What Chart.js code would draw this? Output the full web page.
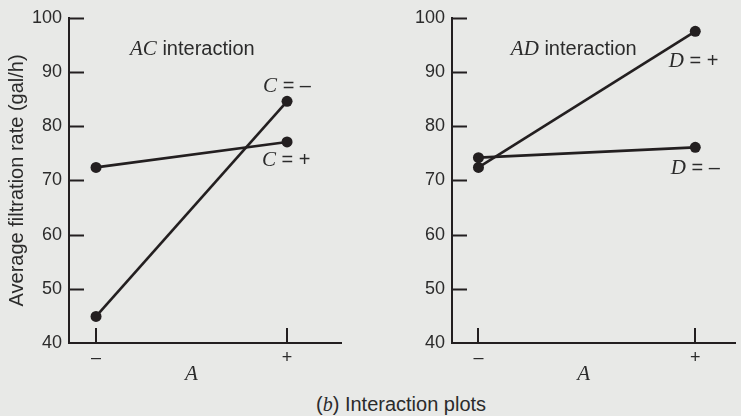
<!DOCTYPE html>
<html>
<head>
<meta charset="utf-8">
<script src="https://cdn.jsdelivr.net/npm/chart.js@4/dist/chart.umd.min.js"></script>
<style>
  html, body { margin: 0; padding: 0; background: #e8e9e7; }
  #wrap { position: relative; width: 741px; height: 416px; overflow: hidden; background: #e8e9e7; }
  #c-ac { position: absolute; left: 0; top: 0; }
  #c-ad { position: absolute; left: 370px; top: 0; }
  #caption { position: absolute; left: 316px; top: 393px; white-space: nowrap;
             font: 20px "Liberation Sans", Arial, sans-serif; color: #2b2b2b; }
  #caption i { font-family: "Liberation Serif", serif; }
</style>
</head>
<body>
<div id="wrap">
  <canvas id="c-ac" width="370" height="390"></canvas>
  <canvas id="c-ad" width="371" height="390"></canvas>
  <div id="caption">(<i>b</i>) Interaction plots</div>
</div>
<script>
// ── Datos ─────────────────────────────────────────────
var nivelesA   = [-1, 1];          // A = –, A = +
var etiquetasA = ['–', '+'];
var ticksY     = [40, 50, 60, 70, 80, 90, 100];

var acCMenos = [44.9, 84.6];       // C = –
var acCMas   = [72.4, 77.1];       // C = +
var adDMenos = [74.2, 76.1];       // D = –
var adDMas   = [72.4, 97.5];       // D = +

var INK   = '#231f20';
var TEXTO = '#2b2b2b';
var SANS  = '"Liberation Sans", Arial, sans-serif';
var SERIF = '"Liberation Serif", serif';

function _pts(arr) { return nivelesA.map(function(x, i) { return { x: x, y: arr[i] }; }); }

function _serie(arr) {
    return {
        data: _pts(arr),
        showLine: true,
        borderColor: INK,
        backgroundColor: INK,
        borderWidth: 2.6,
        pointRadius: 5.5,
        pointHoverRadius: 5.5,
        pointBorderWidth: 0
    };
}

// Marcas de eje hacia adentro + rótulos de texto
var pluginMarcas = {
    id: 'marcas',
    afterDraw: function(chart, args, opts) {
        var ctx = chart.ctx, xs = chart.scales.x, ys = chart.scales.y, ca = chart.chartArea;
        ctx.save();
        ctx.strokeStyle = INK;
        ctx.lineWidth = 2;
        ticksY.forEach(function(v) {
            if (v === 40) return;
            var py = Math.round(ys.getPixelForValue(v)) + 0.5;
            ctx.beginPath(); ctx.moveTo(ca.left, py); ctx.lineTo(ca.left + 15, py); ctx.stroke();
        });
        nivelesA.forEach(function(v) {
            var px = Math.round(xs.getPixelForValue(v));
            ctx.beginPath(); ctx.moveTo(px, ca.bottom); ctx.lineTo(px, ca.bottom - 15); ctx.stroke();
        });
        // título eje x (A)
        ctx.fillStyle = TEXTO;
        ctx.font = 'italic 21px ' + SERIF;
        ctx.textAlign = 'center';
        ctx.textBaseline = 'middle';
        ctx.fillText('A', xs.getPixelForValue(opts.tituloX), ca.bottom + 31);
        // rótulos
        ctx.textAlign = 'left';
        (opts.rotulos || []).forEach(function(r) {
            var x = xs.getPixelForValue(r.x), y = ys.getPixelForValue(r.y);
            r.partes.forEach(function(p) {
                ctx.font = p[1] === 'i' ? 'italic 21px ' + SERIF : '20px ' + SANS;
                ctx.fillText(p[0], x, y);
                x += ctx.measureText(p[0]).width;
            });
        });
        ctx.restore();
    }
};

function _crearPanel(id, series, xMin, xMax, anchoY, padDer, conTitulo, rotulos, tituloX) {
    return new Chart(document.getElementById(id), {
        type: 'scatter',
        data: { datasets: series.map(_serie) },
        plugins: [pluginMarcas],
        options: {
            responsive: false,
            animation: false,
            events: [],
            layout: { padding: { top: 15, right: padDer, left: 0, bottom: 0 } },
            plugins: {
                legend: { display: false },
                tooltip: { enabled: false },
                marcas: { rotulos: rotulos, tituloX: tituloX }
            },
            scales: {
                x: {
                    type: 'linear', min: xMin, max: xMax,
                    afterBuildTicks: function(s) { s.ticks = nivelesA.map(function(v) { return { value: v }; }); },
                    afterFit: function(s) { s.height = 47; },
                    grid: { display: false, drawTicks: false },
                    border: { display: true, color: INK, width: 2 },
                    ticks: {
                        padding: 4, color: TEXTO, font: { family: SANS, size: 18 },
                        autoSkip: false, maxRotation: 0,
                        callback: function(v) { var i = nivelesA.indexOf(v); return i >= 0 ? etiquetasA[i] : ''; }
                    }
                },
                y: {
                    min: 40, max: 100,
                    afterBuildTicks: function(s) { s.ticks = ticksY.map(function(v) { return { value: v }; }); },
                    afterFit: function(s) { s.width = anchoY; },
                    grid: { display: false, drawTicks: false },
                    border: { display: true, color: INK, width: 2 },
                    ticks: { padding: 7, color: TEXTO, font: { family: SANS, size: 18 } },
                    title: {
                        display: conTitulo, text: 'Average filtration rate (gal/h)',
                        color: TEXTO, font: { family: SANS, size: 20 }, padding: { top: 5, bottom: 0 }
                    }
                }
            }
        }
    });
}

_crearPanel('c-ac', [acCMenos, acCMas], -1.283, 1.565, 69, 29, true, [
    { x: -0.644, y: 94.1, partes: [['AC', 'i'], [' interaction', 's']] },
    { x: 0.749,  y: 87.3, partes: [['C', 'i'], [' = –', 's']] },
    { x: 0.738,  y: 73.6, partes: [['C', 'i'], [' = +', 's']] }
], 0);

_crearPanel('c-ad', [adDMenos, adDMas], -1.244, 1.371, 82, 0, false, [
    { x: -0.701, y: 94.1, partes: [['AD', 'i'], [' interaction', 's']] },
    { x: 0.756,  y: 91.9, partes: [['D', 'i'], [' = +', 's']] },
    { x: 0.774,  y: 72.2, partes: [['D', 'i'], [' = –', 's']] }
], -0.03);
</script>
</body>
</html>
